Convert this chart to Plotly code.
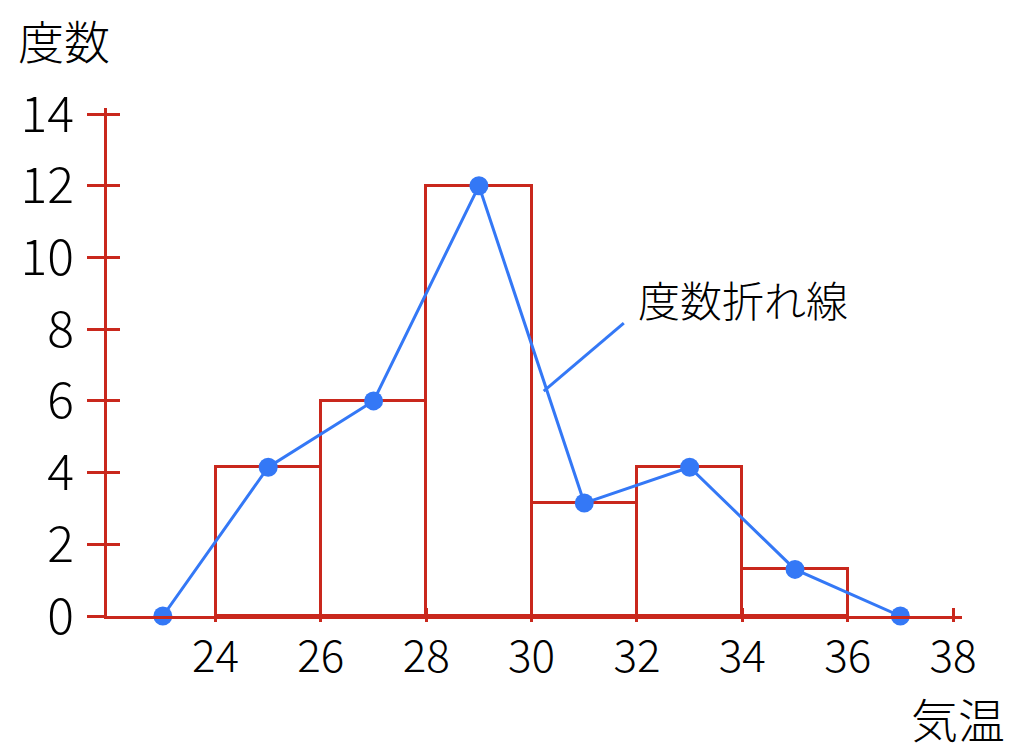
import plotly.graph_objects as go

# Data
bin_left = [24, 26, 28, 30, 32, 34]
bin_width = 2
freq = [4.15, 6, 12, 3.15, 4.15, 1.3]
poly_x = [23, 25, 27, 29, 31, 33, 35, 37]
poly_y = [0, 4.15, 6, 12, 3.15, 4.15, 1.3, 0]
x_ticks = [24, 26, 28, 30, 32, 34, 36, 38]
y_ticks = [0, 2, 4, 6, 8, 10, 12, 14]

RED = "#c9281d"
BLUE = "#3478f6"
FONT = "Noto Sans CJK JP"

bin_centers = [b + bin_width / 2 for b in bin_left]

fig = go.Figure()
fig.add_trace(go.Bar(
    x=bin_centers, y=freq, width=[bin_width] * len(freq),
    marker=dict(color="rgba(0,0,0,0)", line=dict(color=RED, width=3)),
    hoverinfo="skip", showlegend=False,
))
fig.add_trace(go.Scatter(
    x=poly_x, y=poly_y, mode="lines+markers",
    line=dict(color=BLUE, width=3),
    marker=dict(color=BLUE, size=19),
    showlegend=False, cliponaxis=False,
))

xr = [21.94, 38.17]
yr = [0, 14.17]
tick_common = dict(tickvals=x_ticks, tickwidth=3, tickcolor=RED,
                   showticklabels=False, showgrid=False, zeroline=False,
                   showline=False, side="bottom", overlaying="x", range=xr)

fig.update_layout(
    width=1016, height=744,
    margin=dict(l=92, r=62, t=100, b=136),
    paper_bgcolor="white", plot_bgcolor="white",
    font=dict(family=FONT, color="black", weight=300),
    xaxis=dict(range=xr, tickvals=x_ticks, ticks="", showline=True,
               linecolor=RED, linewidth=3, showgrid=False, zeroline=False,
               tickfont=dict(size=44, family=FONT, weight=300),
               ticklabelstandoff=0),
    yaxis=dict(range=yr, tickvals=y_ticks, ticks="outside", ticklen=17,
               tickwidth=3, tickcolor=RED, showline=True, linecolor=RED,
               linewidth=3, showgrid=False, zeroline=False,
               tickfont=dict(size=50, family=FONT, weight=300), ticklabelstandoff=3),
    xaxis2=dict(ticks="inside", ticklen=8, **tick_common),
    xaxis3=dict(ticks="outside", ticklen=5, **tick_common),
    yaxis2=dict(range=yr, tickvals=y_ticks, ticks="inside", ticklen=13,
                tickwidth=3, tickcolor=RED, overlaying="y",
                showticklabels=False, showgrid=False, zeroline=False,
                showline=False, side="left"),
    bargap=0,
)
# dummy traces to activate overlay axes
fig.add_trace(go.Scatter(x=[None], y=[None], xaxis="x2", yaxis="y2",
                         showlegend=False, hoverinfo="skip"))
fig.add_trace(go.Scatter(x=[None], y=[None], xaxis="x3", yaxis="y",
                         showlegend=False, hoverinfo="skip"))

fig.add_shape(type="line", x0=30.23, y0=6.27, x1=31.75, y1=8.17,
              xref="x", yref="y", line=dict(color=BLUE, width=3))

fig.add_annotation(text="度数折れ線", x=34.01, y=8.85, xref="x", yref="y",
                   showarrow=False, xanchor="center", yanchor="middle",
                   font=dict(size=42, family=FONT, weight=300))
fig.add_annotation(text="度数", x=-0.05, y=1.135, xref="paper", yref="paper",
                   showarrow=False, xanchor="center", yanchor="middle",
                   font=dict(size=46, family=FONT, weight=300))
fig.add_annotation(text="気温", x=0.995, y=-0.2, xref="paper", yref="paper",
                   showarrow=False, xanchor="center", yanchor="middle",
                   font=dict(size=47, family=FONT, weight=300))

fig.write_html("out.html")
